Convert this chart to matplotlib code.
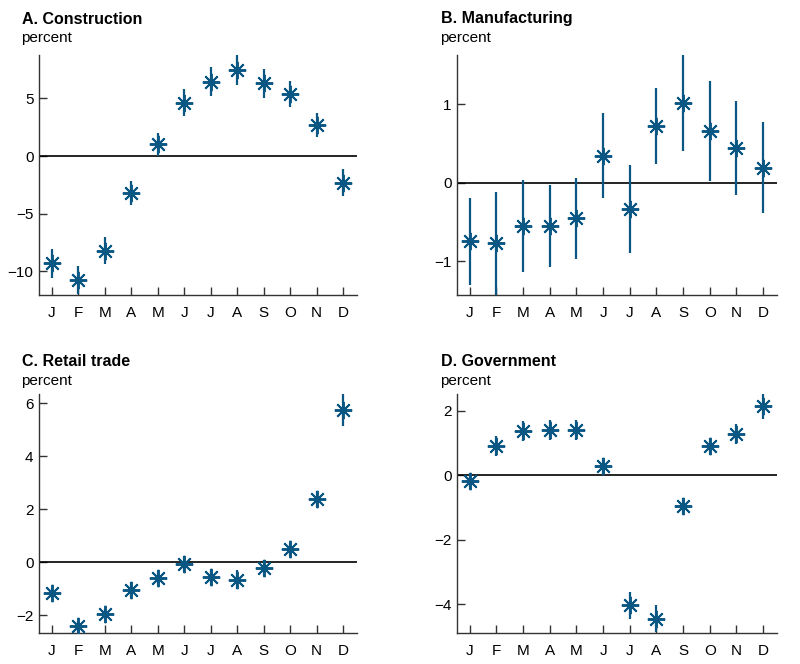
import matplotlib
matplotlib.use("Agg")
import matplotlib.pyplot as plt

plt.rcParams['font.family'] = ['Liberation Sans', 'DejaVu Sans']

months = ["J", "F", "M", "A", "M", "J", "J", "A", "S", "O", "N", "D"]

constr_val = [-9.3, -10.75, -8.2, -3.18, 1.0, 4.62, 6.45, 7.46, 6.3, 5.35, 2.69, -2.31]
constr_err = [1.25, 1.25, 1.2, 1.05, 1.0, 1.15, 1.25, 1.27, 1.23, 1.13, 1.0, 1.15]

manuf_val = [-0.75, -0.774, -0.553, -0.553, -0.455, 0.345, -0.34, 0.728, 1.02, 0.66, 0.447, 0.19]
manuf_err = [0.56, 0.66, 0.585, 0.52, 0.52, 0.54, 0.56, 0.485, 0.61, 0.64, 0.6, 0.58]

retail_val = [-1.155, -2.41, -1.95, -1.03, -0.59, -0.05, -0.565, -0.65, -0.21, 0.5, 2.38, 5.75]
retail_err = [0.2, 0.2, 0.2, 0.3, 0.25, 0.3, 0.3, 0.35, 0.3, 0.25, 0.3, 0.62]

gov_val = [-0.165, 0.91, 1.37, 1.4, 1.4, 0.29, -4.03, -4.45, -0.95, 0.91, 1.27, 2.15]
gov_err = [0.25, 0.31, 0.3, 0.3, 0.3, 0.26, 0.42, 0.42, 0.26, 0.25, 0.31, 0.4]

panels = [
    ("A. Construction", constr_val, constr_err, (-12.05, 8.76), [-10, -5, 0, 5]),
    ("B. Manufacturing", manuf_val, manuf_err, (-1.434, 1.63), [-1, 0, 1]),
    ("C. Retail trade", retail_val, retail_err, (-2.66, 6.35), [-2, 0, 2, 4, 6]),
    ("D. Government", gov_val, gov_err, (-4.89, 2.52), [-4, -2, 0, 2]),
]

W, H = 800, 664
boxes = [(39, 357, 55, 295), (457, 777, 55, 295), (39, 357, 394, 633), (457, 777, 394, 633)]
title_pos = [(22, 19), (441, 19), (22, 362), (441, 362)]
color = "#0b5784"
star = (8, 2, 0)

fig = plt.figure(figsize=(8, 6.64), dpi=100)
for (title, vals, errs, ylim, yt), (l, r, t, b), (tx, ty) in zip(panels, boxes, title_pos):
    ax = fig.add_axes([l / W, 1 - b / H, (r - l) / W, (b - t) / H])
    x = list(range(1, 13))
    ax.errorbar(x, vals, yerr=errs, fmt='none', ecolor=color, elinewidth=1.6, capsize=0, zorder=3)
    ax.plot(x, vals, linestyle='none', marker=star, markersize=12.5, markeredgewidth=1.4,
            color=color, zorder=4)
    ax.axhline(0, color='black', lw=1.2, zorder=2)
    ax.set_xlim(0.52, 12.52)
    ax.set_ylim(*ylim)
    ax.set_xticks(x)
    ax.set_xticklabels(months)
    ax.set_yticks(yt)
    ax.set_yticklabels([str(v).replace('-', '\u2212') for v in yt])
    for s in ['top', 'right']:
        ax.spines[s].set_visible(False)
    for s in ['left', 'bottom']:
        ax.spines[s].set_color('#333333')
        ax.spines[s].set_linewidth(1.0)
    ax.tick_params(axis='both', direction='in', length=6, width=1.0, color='#333333',
                   labelsize=11, labelcolor='black')
    ax.tick_params(axis='x', pad=8)
    ax.tick_params(axis='y', pad=4)
    fig.text(tx / W, 1 - ty / H, title, fontsize=11.5, fontweight='bold', ha='left', va='center')
    fig.text((tx - 1) / W, 1 - (ty + 19) / H, "percent", fontsize=11, ha='left', va='center')

fig.savefig("out.png", dpi=100)
